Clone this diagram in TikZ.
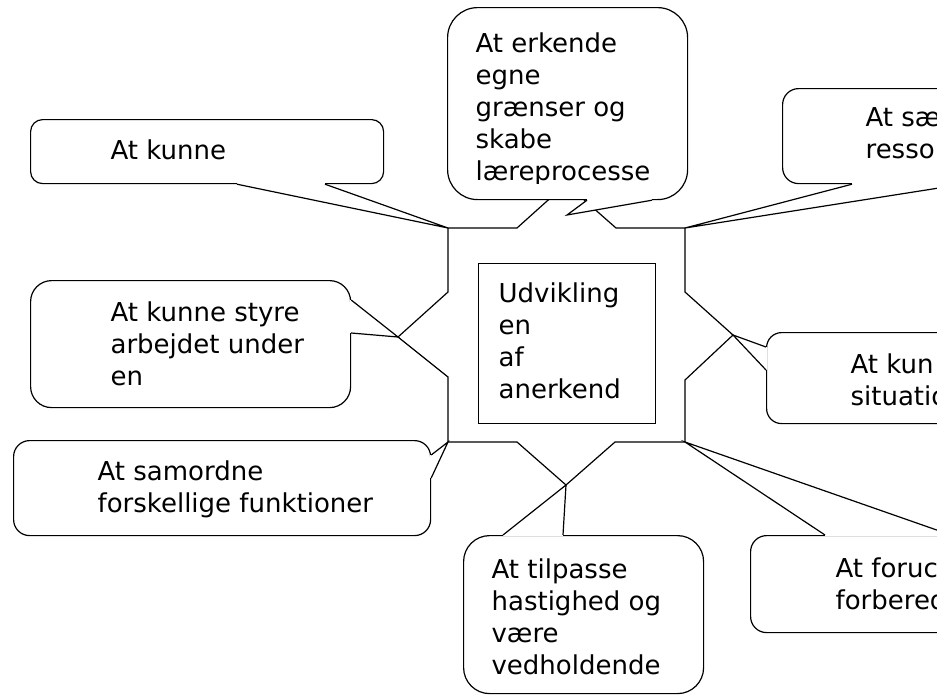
\documentclass[tikz,border=0pt]{standalone}
\usepackage{fontspec}
\setmainfont{DejaVu Sans}
\newcommand{\tailto}[3]{%
  \fill[white] #1 -- #2 -- #3 -- cycle;
  \draw[white,line width=2.6pt] #1 -- #3;
  \draw[line join=miter] #1 -- #2 -- #3;}
\begin{document}
\begin{tikzpicture}[x=1pt,y=-1pt,line width=1.2pt,
    bubble/.style={draw,fill=white,anchor=north west,inner sep=0pt},
    txt/.style={anchor=north west,inner sep=0pt,align=left,font=\fontsize{26}{32}\selectfont}]
  \useasboundingbox (0,0) rectangle (937,694);
  % corners and points of the star
  \coordinate (tl) at (448,228);
  \coordinate (tr) at (685,228);
  \coordinate (br) at (685,442);
  \coordinate (bl) at (448,442);
  \coordinate (vt) at (566,184);
  \coordinate (vr) at (733,335);
  \coordinate (vb) at (566,485);
  \coordinate (vl) at (398,337);
  \coordinate (tip) at (567,215);
  \draw[fill=white] (tl) -- (517,228) -- (vt) -- (616,228) -- (tr) -- (685,292) -- (vr)
    -- (685,380) -- (br) -- (615,442) -- (vb) -- (517,442) -- (bl) -- (448,377)
    -- (vl) -- (448,292) -- cycle;
  \node[draw,anchor=north west,inner sep=0pt,minimum width=177pt,minimum height=160pt] (core) at (478,263) {};
  \node[txt] (udvikling) at (498,282) {Udvikling\\en\\af\\anerkend};
  % callouts
  \node[bubble,rounded corners=12pt,minimum width=353pt,minimum height=64pt] (kunne) at (30,119) {};
  \tailto{([xshift=207pt]kunne.south west)}{(tl)}{([xshift=295pt]kunne.south west)}
  \node[txt] (kunnetxt) at (110,139) {At kunne};

  \node[bubble,rounded corners=30pt,minimum width=240pt,minimum height=192pt] (erkende) at (447,7) {};
  \tailto{([xshift=140pt]erkende.south west)}{(tip)}{([xshift=205pt]erkende.south west)}
  \begin{scope}
    \clip (447,7) rectangle (687,183);
    \node[txt] (erkendetxt) at (475,32) {At erkende\\egne\\grænser og\\skabe\\læreprocesse};
  \end{scope}

  \node[bubble,rounded corners=16pt,minimum width=250pt,minimum height=95pt] (saette) at (782,88) {};
  \tailto{([xshift=70pt]saette.south west)}{(tr)}{([xshift=181pt]saette.south west)}
  \node[txt] (saettetxt) at (865,107) {At sæ\\resso};

  \node[bubble,rounded corners=21pt,minimum width=320pt,minimum height=127pt] (styre) at (30,280) {};
  \tailto{([yshift=-20pt]styre.north east)}{(vl)}{([yshift=-53pt]styre.north east)}
  \node[txt] (styretxt) at (110,301) {At kunne styre\\arbejdet under\\en};

  \node[bubble,rounded corners=15pt,minimum width=250pt,minimum height=91pt] (situation) at (766,332) {};
  \tailto{([yshift=-15pt]situation.north west)}{(vr)}{([yshift=-38pt]situation.north west)}
  \node[txt] (situationtxt) at (850,353) {At kun\\situatio};

  \node[bubble,rounded corners=16pt,minimum width=417pt,minimum height=95pt] (samordne) at (13,440) {};
  \tailto{([yshift=-15pt]samordne.north east)}{(bl)}{([yshift=-38pt]samordne.north east)}
  \node[txt] (samordnetxt) at (97,460) {At samordne\\forskellige funktioner};

  \node[bubble,rounded corners=26pt,minimum width=240pt,minimum height=158pt] (tilpasse) at (463,535) {};
  \tailto{([xshift=40pt]tilpasse.north west)}{(vb)}{([xshift=100pt]tilpasse.north west)}
  \node[txt] (tilpassetxt) at (491,558) {At tilpasse\\hastighed og\\være\\vedholdende};

  \node[bubble,rounded corners=16pt,minimum width=250pt,minimum height=97pt] (forudse) at (750,535) {};
  \tailto{([xshift=75pt]forudse.north west)}{(br)}{([xshift=201pt]forudse.north west)}
  \node[txt] (forudsetxt) at (835,557) {At foruc\\forbered};
\end{tikzpicture}
\end{document}
